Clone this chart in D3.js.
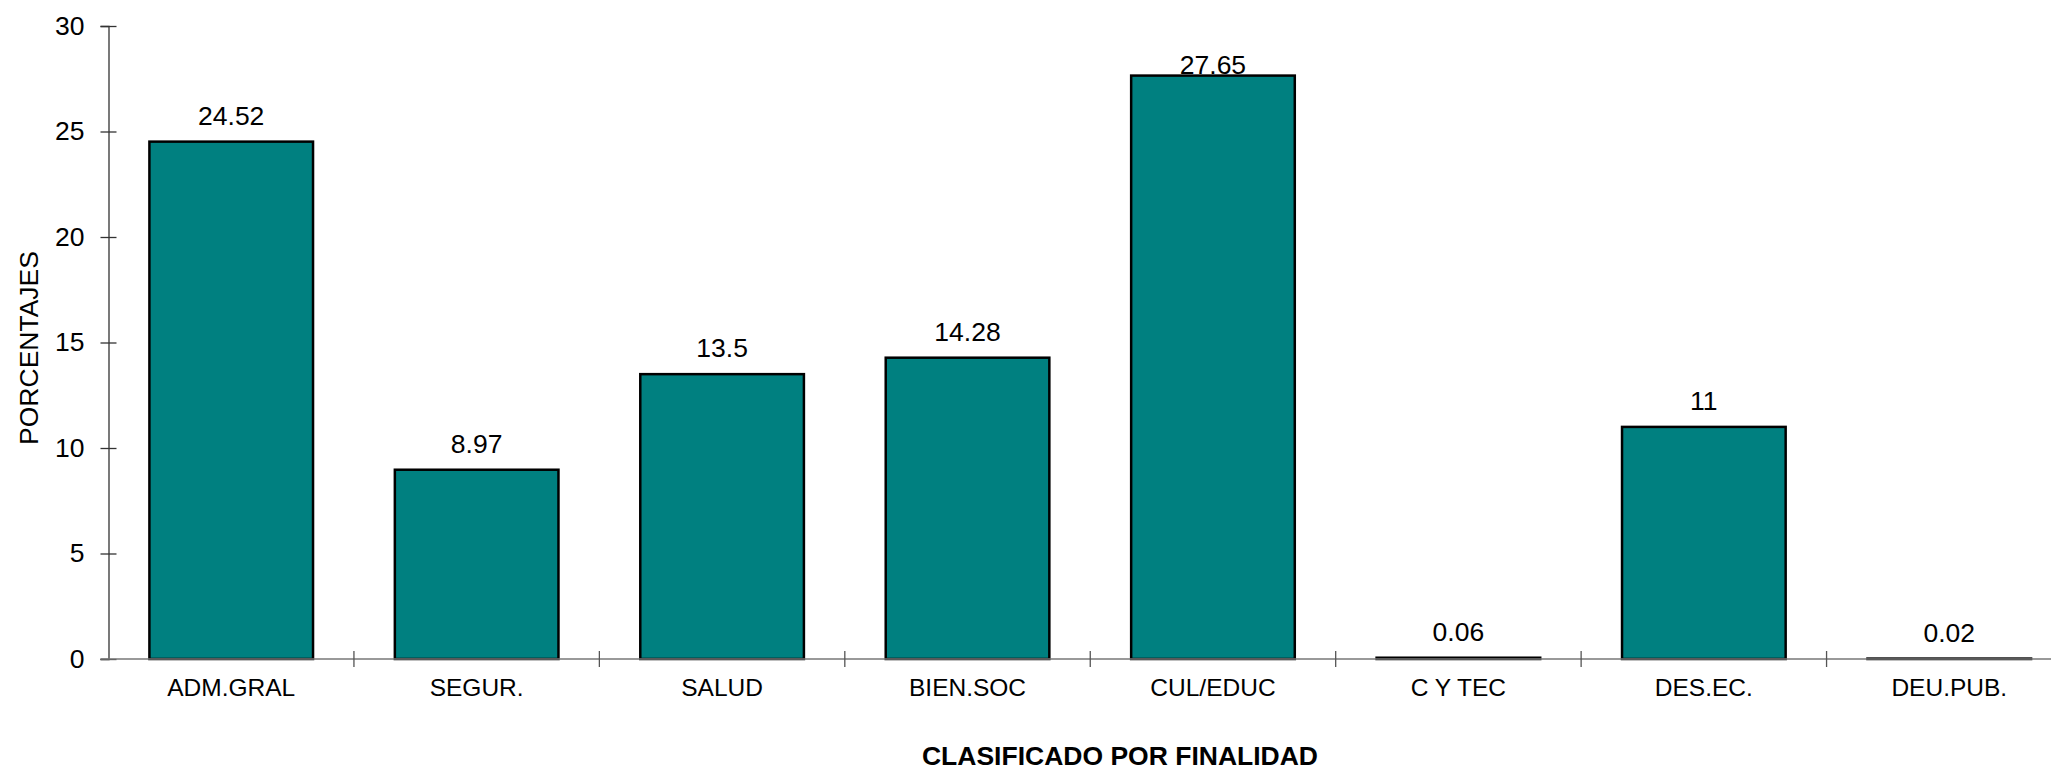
<!DOCTYPE html>
<html><head><meta charset="utf-8">
<script src="https://d3js.org/d3.v7.min.js"></script>
<style>body{margin:0;background:#fff;overflow:hidden}svg{display:block}text{font-family:Arial,"Liberation Sans",sans-serif}</style>
</head><body>
<script>
const categories = ["ADM.GRAL","SEGUR.","SALUD","BIEN.SOC","CUL/EDUC","C Y TEC","DES.EC.","DEU.PUB."];
const values = [24.52, 8.97, 13.5, 14.28, 27.65, 0.06, 11, 0.02];
const valueLabels = ["24.52","8.97","13.5","14.28","27.65","0.06","11","0.02"];
const yTicks = [0,5,10,15,20,25,30];
const xTitle = "CLASIFICADO POR FINALIDAD";
const yTitle = "PORCENTAJES";

(function(){
const W = 2051, H = 770;
const svg = d3.select("body").append("svg").attr("width", W).attr("height", H);
const pLeft = 108.5, pRight = 2072, pTop = 26, pBottom = 659;

const x = d3.scaleBand().domain(categories).range([pLeft, pRight]).paddingInner(1/3).paddingOuter(1/6);
const y = d3.scaleLinear().domain([0, 30]).range([pBottom, pTop]);

// bars
svg.selectAll("rect.bar").data(values).enter().append("rect")
  .attr("x", (d,i) => x(categories[i]))
  .attr("y", d => y(d))
  .attr("width", x.bandwidth())
  .attr("height", d => pBottom - y(d))
  .attr("fill", "#008080").attr("stroke", "#000").attr("stroke-width", 2.5);

// y axis
const yAxis = svg.append("g").attr("transform", `translate(${pLeft},0)`)
  .call(d3.axisLeft(y).tickValues(yTicks).tickSize(8).tickPadding(17).tickFormat(d3.format("d")));
yAxis.select(".domain").attr("stroke", "#333").attr("stroke-width", 1.3);
yAxis.selectAll(".tick line").attr("stroke", "#333").attr("stroke-width", 1.3).attr("x2", 8).attr("x1", -8);
yAxis.selectAll(".tick text").attr("font-size", 26.5).attr("fill", "#000").attr("x", -24);

// x axis
const step = x.step();
svg.append("line").attr("x1", pLeft - 8).attr("x2", pRight).attr("y1", pBottom).attr("y2", pBottom)
  .attr("stroke", "#777").attr("stroke-width", 1.5);
const bounds = d3.range(1, categories.length + 1).map(i => pLeft + i * step);
svg.selectAll("line.xt").data(bounds).enter().append("line")
  .attr("x1", d => d).attr("x2", d => d).attr("y1", pBottom - 8).attr("y2", pBottom + 8)
  .attr("stroke", "#555").attr("stroke-width", 1.3);
svg.selectAll("text.cat").data(categories).enter().append("text")
  .attr("x", d => x(d) + x.bandwidth()/2).attr("y", 696)
  .attr("text-anchor", "middle").attr("font-size", 24.5).text(d => d);

// value labels
svg.selectAll("text.val").data(values).enter().append("text")
  .attr("x", (d,i) => x(categories[i]) + x.bandwidth()/2)
  .attr("y", d => Math.max(y(d) - 17, 74))
  .attr("text-anchor", "middle").attr("font-size", 26.5).text((d,i) => valueLabels[i]);

// titles
svg.append("text").attr("x", 1120).attr("y", 765).attr("text-anchor", "middle")
  .attr("font-size", 26.5).attr("font-weight", "bold").text(xTitle);
svg.append("text").attr("transform", "translate(38,348) rotate(-90)").attr("text-anchor", "middle")
  .attr("font-size", 26.5).text(yTitle);
})();
</script>
</body></html>
